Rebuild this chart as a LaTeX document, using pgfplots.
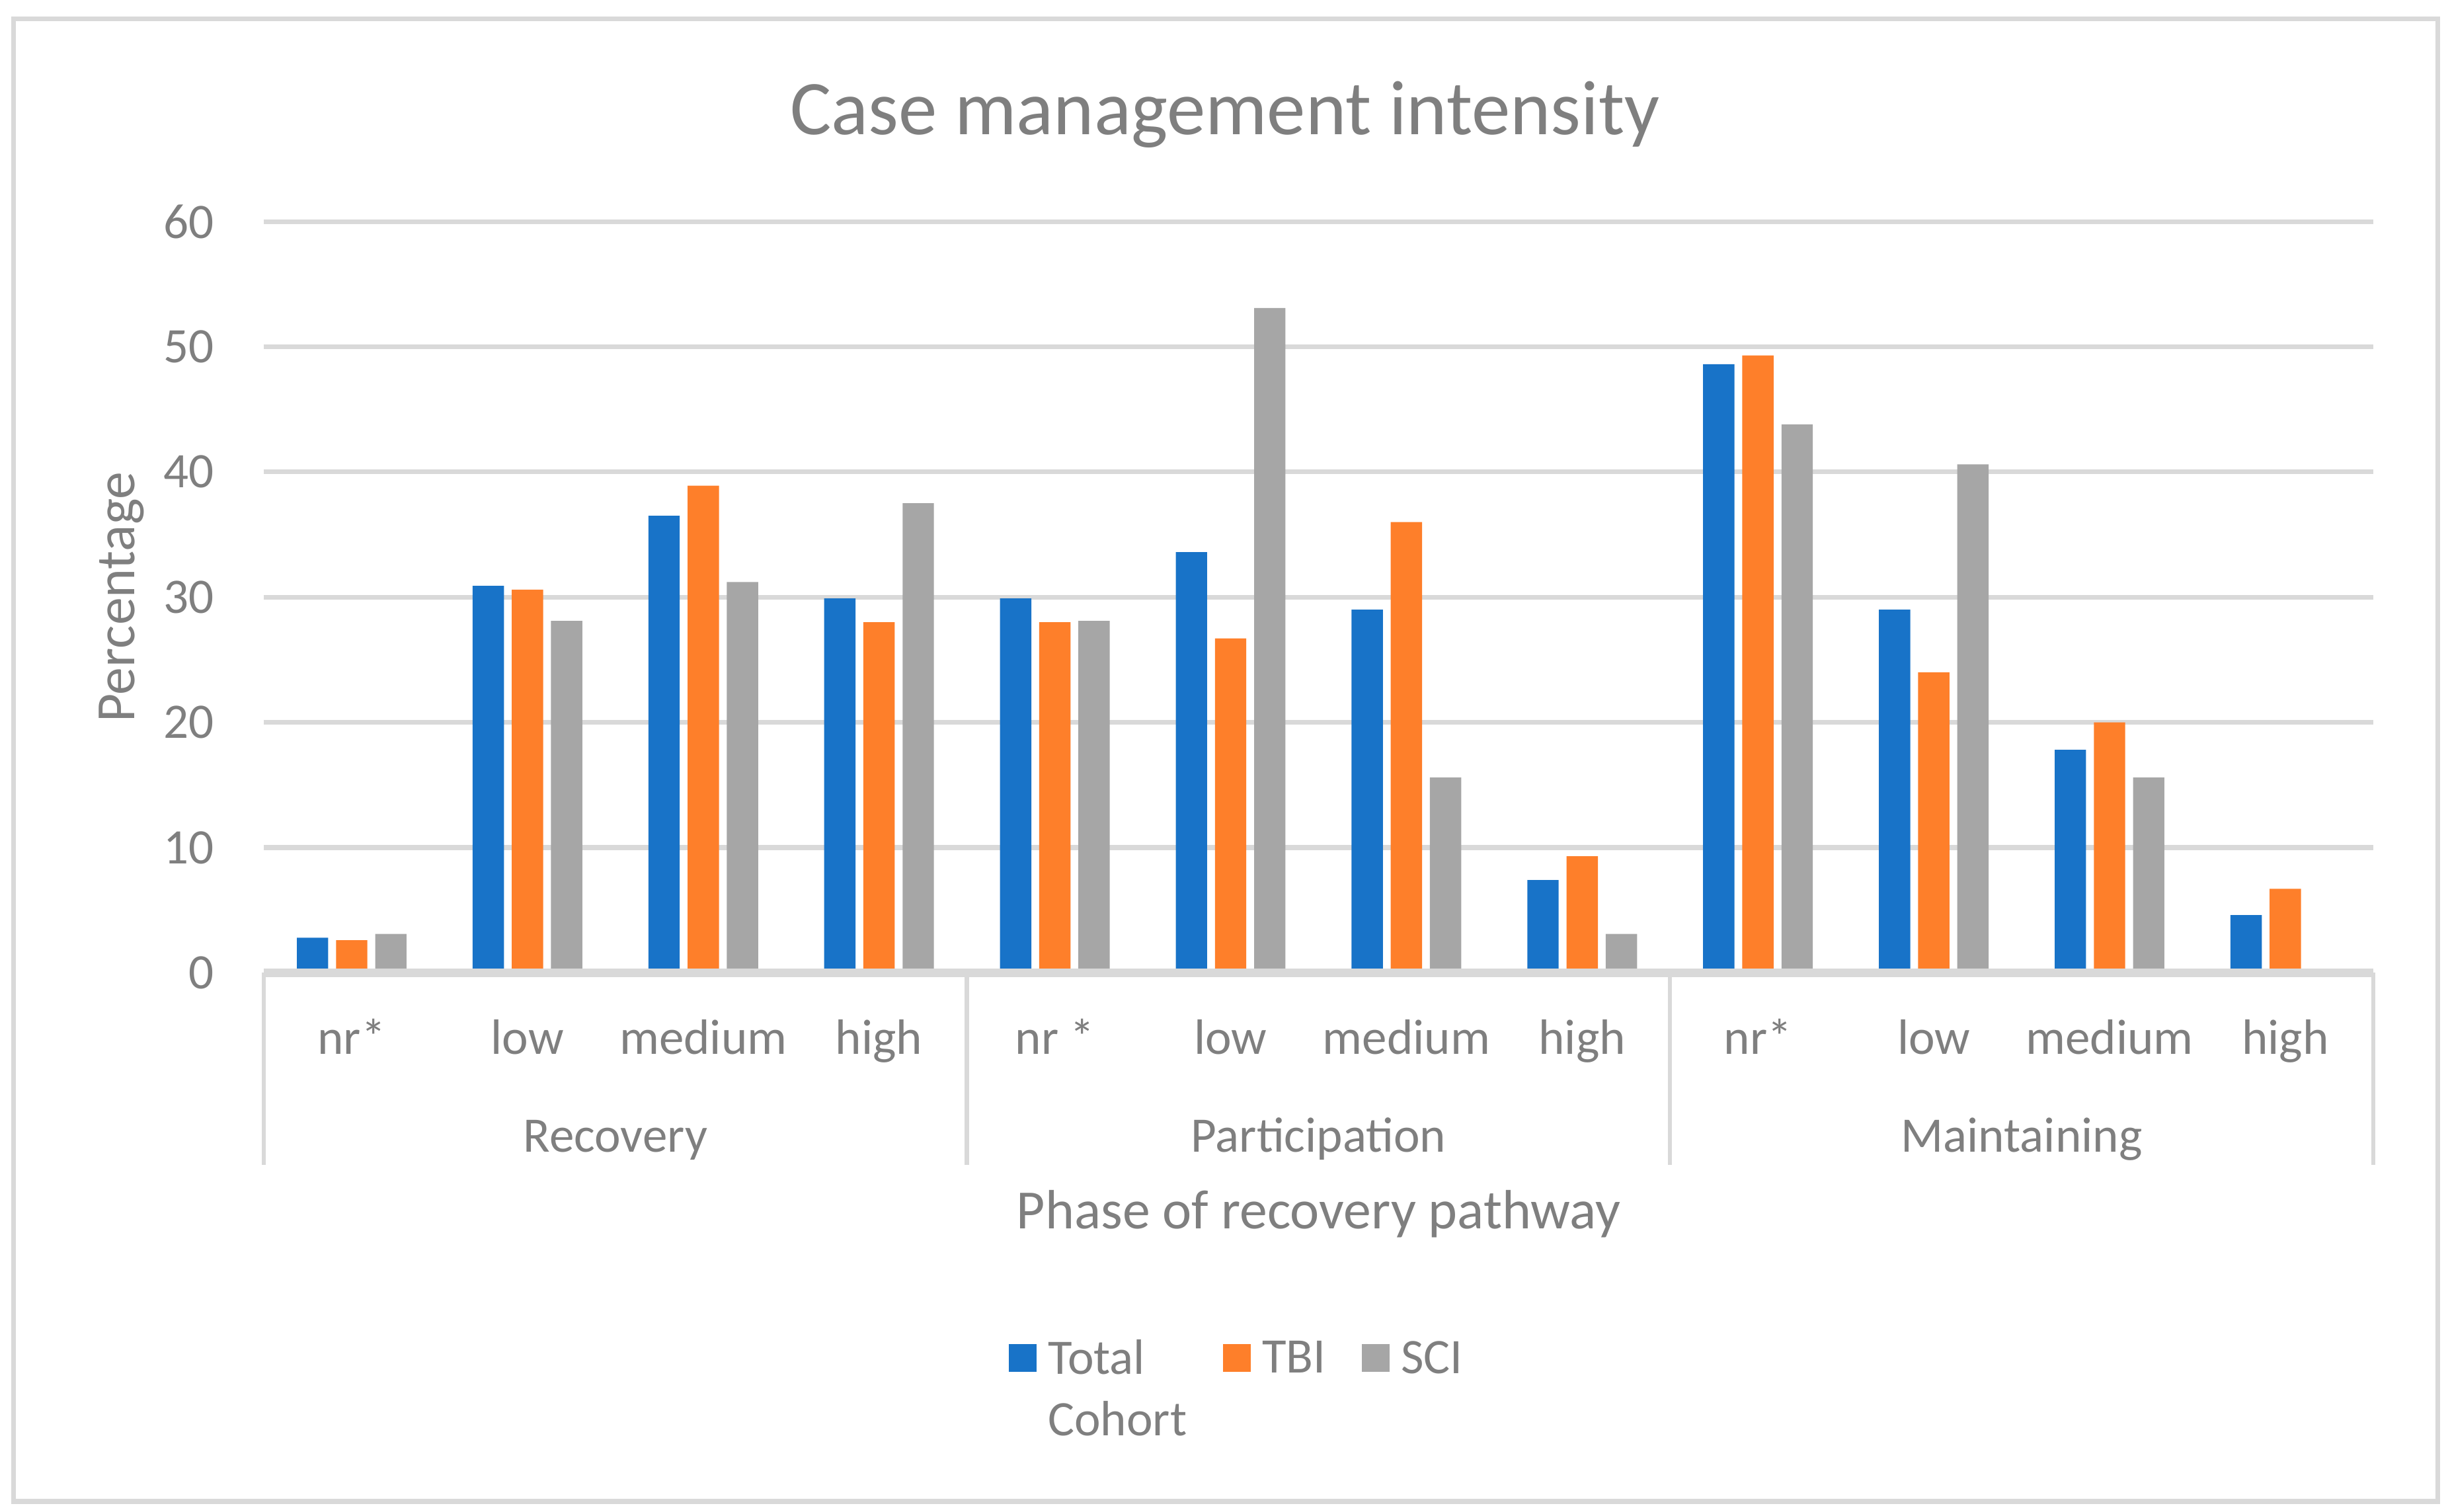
\documentclass[border=0pt]{standalone}
\usepackage{fontspec}
\setmainfont{Carlito}
\usepackage{pgfplots}
\pgfplotsset{compat=1.18}
\definecolor{cTotal}{HTML}{1873C8}
\definecolor{cTBI}{HTML}{FE7F2A}
\definecolor{cSCI}{HTML}{A6A6A6}
\definecolor{txt}{HTML}{7F7F7F}
\definecolor{gridc}{HTML}{D9D9D9}
\begin{document}
\begin{tikzpicture}
\path[use as bounding box] (0,0) rectangle (469pt,289.4pt);
\begin{axis}[
    at={(50.5pt,103.2pt)}, anchor=south west,
    scale only axis, width=403.8pt, height=143.8pt,
    clip=false,
    xmin=-0.5, xmax=11.5, ymin=0, ymax=60,
    ytick={0,10,...,60},
    xtick={0,...,11},
    xticklabels={nr*,low,medium,high,nr *,low,medium,high,nr*,low,medium,high},
    axis line style={draw=none},
    major tick length=0pt,
    ymajorgrids, grid style={gridc, line width=0.9pt},
    /pgf/number format/assume math mode=true,
    tick label style={font=\fontsize{9.5}{11.4}\selectfont, text=txt, inner sep=0pt},
    xticklabel style={anchor=base, yshift=-15.6pt},
    yticklabel style={anchor=east, xshift=-9.3pt},
    every axis y label/.style={at={(axis description cs:-0.0674,0.5)}, rotate=90, anchor=center},
    every axis x label/.style={at={(axis description cs:0.5,-0.341)}, anchor=base},
    label style={font=\fontsize{10.6}{12.7}\selectfont, text=txt},
    ylabel={Percentage},
    xlabel={Phase of recovery pathway},
    ybar=1.5pt, bar width=6pt,
    legend columns=3,
    legend style={draw=none, fill=none, inner sep=0pt,
        at={(axis description cs:0.3527,-0.4875)}, anchor=north west,
        font=\fontsize{9.5}{11.4}\selectfont, text=txt,
        nodes={inner sep=0pt},
        /tikz/every even column/.append style={column sep=0pt}},
    legend image code/.code={\path[#1, draw=none] (0pt,-2pt) rectangle (5.3pt,3.3pt); \path (7.5pt,0pt);},
]
\addplot[fill=cTotal, draw=none] coordinates {
    (0,2.8) (1,30.9) (2,36.5) (3,29.9) (4,29.9) (5,33.6)
    (6,29.0) (7,7.4) (8,48.6) (9,29.0) (10,17.8) (11,4.6)};
\addlegendentry{\parbox[t]{33.5pt}{\setlength\baselineskip{11.7pt}Total\\Cohort}}
\addplot[fill=cTBI, draw=none] coordinates {
    (0,2.6) (1,30.6) (2,38.9) (3,28.0) (4,28.0) (5,26.7)
    (6,36.0) (7,9.3) (8,49.3) (9,24.0) (10,20.0) (11,6.7)};
\addlegendentry{\makebox[19.1pt][l]{TBI}}
\addplot[fill=cSCI, draw=none] coordinates {
    (0,3.1) (1,28.1) (2,31.2) (3,37.5) (4,28.1) (5,53.1)
    (6,15.6) (7,3.1) (8,43.8) (9,40.6) (10,15.6) (11,0)};
\addlegendentry{SCI}
% category axis line and group separators
\draw[gridc, line width=1.6pt] (axis cs:-0.5,0) -- (axis cs:11.5,0);
\draw[gridc, line width=0.8pt] (axis cs:-0.5,0) -- ++(0pt,-36.8pt);
\draw[gridc, line width=0.8pt] (axis cs:3.5,0) -- ++(0pt,-36.8pt);
\draw[gridc, line width=0.8pt] (axis cs:7.5,0) -- ++(0pt,-36.8pt);
\draw[gridc, line width=0.8pt] (axis cs:11.5,0) -- ++(0pt,-36.8pt);
\path (axis cs:1.5,0) node[anchor=base, yshift=-34.3pt, text=txt, font=\fontsize{9.5}{11.4}\selectfont] {Recovery};
\path (axis cs:5.5,0) node[anchor=base, yshift=-34.3pt, text=txt, font=\fontsize{9.5}{11.4}\selectfont] {Participation};
\path (axis cs:9.5,0) node[anchor=base, yshift=-34.3pt, text=txt, font=\fontsize{9.5}{11.4}\selectfont] {Maintaining};
\end{axis}
\node[anchor=base, text=txt, font=\fontsize{14.8}{17.8}\selectfont] at (234.5pt,263.6pt) {Case management intensity};
\draw[gridc, line width=0.9pt] (2.6pt,2.0pt) rectangle (466.6pt,285.8pt);
\end{tikzpicture}
\end{document}
